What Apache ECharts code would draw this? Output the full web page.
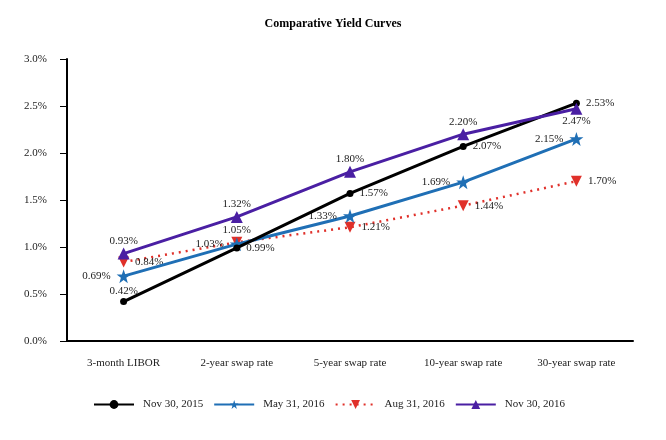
<!DOCTYPE html>
<html><head><meta charset="utf-8">
<script src="https://cdn.jsdelivr.net/npm/echarts@6/dist/echarts.min.js"></script>
<style>html,body{margin:0;padding:0;background:#fff}#c{width:666px;height:440px}</style>
</head><body><div id="c"></div>
<script>
const categories = ['3-month LIBOR','2-year swap rate','5-year swap rate','10-year swap rate','30-year swap rate'];
const seriesNames = ['Nov 30, 2015','May 31, 2016','Aug 31, 2016','Nov 30, 2016'];
const nov2015 = [0.42, 0.99, 1.57, 2.07, 2.53];
const may2016 = [0.69, 1.03, 1.33, 1.69, 2.15];
const aug2016 = [0.84, 1.05, 1.21, 1.44, 1.70];
const nov2016 = [0.93, 1.32, 1.80, 2.20, 2.47];
const yTicks = [0, 0.5, 1.0, 1.5, 2.0, 2.5, 3.0];

const font = '"Liberation Serif","Times New Roman",serif';
const chart = echarts.init(document.getElementById('c'), null, {renderer:'canvas'});
function lbl(pos){return {show:true, position:pos, distance:6, fontFamily:font, fontSize:11, color:'#222', formatter:p=>p.value.toFixed(2)+'%'};}
function withPos(vals, posArr){return vals.map((v,i)=>({value:v, label:{position:posArr[i], distance:(posArr[i]==='top'||posArr[i]==='bottom')?1:6}}));}
chart.setOption({
  animation:false,
  title:{text:'Comparative Yield Curves', left:'center', top:13, textStyle:{fontFamily:font, fontSize:12, fontWeight:'bold', color:'#000'}},
  grid:{left:67, right:33, top:59, bottom:99, containLabel:false},
  legend:{bottom:25, left:88, itemWidth:40, itemHeight:11, itemGap:10,
    textStyle:{fontFamily:font, fontSize:11, color:'#222', padding:[0,0,0,4]}, data:seriesNames},
  xAxis:{type:'category', data:categories, boundaryGap:true,
    axisLine:{lineStyle:{color:'#000', width:2}},
    axisTick:{alignWithLabel:true, length:4, lineStyle:{color:'#000'}},
    axisLabel:{fontFamily:font, fontSize:11, color:'#222', margin:17}},
  yAxis:{type:'value', min:0, max:3, interval:0.5,
    axisLine:{show:true, lineStyle:{color:'#000', width:2}},
    axisTick:{show:true, length:7, lineStyle:{color:'#000'}},
    splitLine:{show:false},
    axisLabel:{fontFamily:font, fontSize:11, color:'#222', margin:20, formatter:v=>v.toFixed(1)+'%'}},
  series:[
    {name:seriesNames[0], type:'line', data:withPos(nov2015,['top','right','right','right','right']),
     symbol:'circle', symbolSize:7, itemStyle:{color:'#000'}, lineStyle:{color:'#000', width:3}, label:lbl('right'), z:4},
    {name:seriesNames[1], type:'line', data:withPos(may2016,['left','left','left','left','left']),
     symbol:'path://M50,0 L61.8,35.1 L98.5,35.1 L68.9,57 L79.4,91.9 L50,70.5 L20.6,91.9 L31.1,57 L1.5,35.1 L38.2,35.1 Z', symbolSize:14,
     itemStyle:{color:'#1f6fb5'}, lineStyle:{color:'#1f6fb5', width:3}, label:lbl('left'), z:3},
    {name:seriesNames[2], type:'line', data:withPos(aug2016,['right','top','right','right','right']),
     symbol:'triangle', symbolRotate:180, symbolSize:11, itemStyle:{color:'#e0302a'}, lineStyle:{color:'#e0302a', width:2.5, type:[2,5]}, label:lbl('right'), z:2},
    {name:seriesNames[3], type:'line', data:withPos(nov2016,['top','top','top','top','bottom']),
     symbol:'triangle', symbolSize:12, itemStyle:{color:'#4a1fa3'}, lineStyle:{color:'#4a1fa3', width:3}, label:lbl('top'), z:5}
  ]
});
</script></body></html>
